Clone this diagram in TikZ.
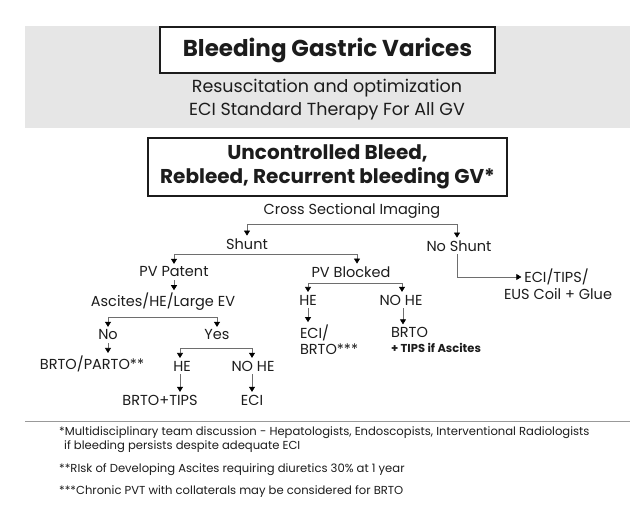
\documentclass[tikz,border=0pt]{standalone}
\usepackage{fontspec}
\setmainfont{Poppins}
\usetikzlibrary{arrows.meta}
\definecolor{bandgray}{HTML}{E6E6E6}
\definecolor{wiregray}{HTML}{6E6E6E}
\definecolor{inkblack}{HTML}{1C1C1C}
\tikzset{
    lbl/.style={inner sep=1.5pt, outer sep=1.5pt, text=inkblack, font=\fontsize{14.5}{16}\selectfont},
    headbox/.style={draw=inkblack, line width=1.2pt, fill=white, text=inkblack, align=center},
    wire/.style={draw=wiregray, line width=0.7pt},
    tip/.style={wire, -{Triangle[width=6pt,length=5pt,color=black]}},
    fork/.style={wire, {Triangle[width=6pt,length=5pt,color=black]}-{Triangle[width=6pt,length=5pt,color=black]}},
    note/.style={anchor=west, inner sep=0pt, align=left, text=inkblack, font=\fontsize{11.6}{14}\selectfont}
}
\begin{document}
\begin{tikzpicture}[x=1pt, y=-1pt]
    \useasboundingbox (0,0) rectangle (641,514);
    \fill[bandgray] (25,26) rectangle (630,128);
    \node[headbox, minimum width=335, minimum height=46, font=\fontsize{23}{26}\selectfont\bfseries] (title) at (327.5,50) {Bleeding Gastric Varices};
    \node[lbl, align=center, font=\fontsize{17.5}{23}\selectfont] (resus) at (327,99.5) {Resuscitation and optimization\\ECI Standard Therapy For All GV};
    \node[headbox, minimum width=359, minimum height=58, font=\fontsize{20}{24}\selectfont\bfseries] (uncon) at (327.5,167) {Uncontrolled Bleed,\\Rebleed, Recurrent bleeding GV*};
    \node[lbl] (cross) at (352,211) {Cross Sectional Imaging};
    \node[lbl] (shunt) at (247,244) {Shunt};
    \node[lbl] (noshunt) at (459,246) {No Shunt};
    \node[lbl] (pvpat) at (174,272) {PV Patent};
    \node[lbl] (pvblk) at (351,272) {PV Blocked};
    \node[lbl] (ecitips) at (556.5,277) {ECI/TIPS/};
    \node[lbl] (eus) at (558,294) {EUS Coil + Glue};
    \node[lbl] (ascites) at (163,302) {Ascites/HE/Large EV};
    \node[lbl] (hetwo) at (308,300) {HE};
    \node[lbl] (nohetwo) at (401,300) {NO HE};
    \node[lbl, align=left, anchor=west, font=\fontsize{14.5}{16}\selectfont] (ecibrto) at (297,340) {ECI/\\BRTO***};
    \node[lbl, align=left, anchor=west, font=\fontsize{14.5}{15}\selectfont] (brtotips) at (388,340) {BRTO\\{\fontsize{11.5}{12}\selectfont\bfseries + TIPS if Ascites}};
    \node[lbl] (no) at (108,335) {No};
    \node[lbl] (yes) at (217,335) {Yes};
    \node[lbl] (parto) at (92,364) {BRTO/PARTO**};
    \node[lbl] (heone) at (182,366) {HE};
    \node[lbl] (noheone) at (253,366) {NO HE};
    \node[lbl] (brtotipsb) at (160,400) {BRTO+TIPS};
    \node[lbl] (ecione) at (252,400) {ECI};
    \draw[fork] (shunt.north) -- ++(0,-11) -| ([xshift=-2pt]noshunt.north);
    \draw[fork] (pvpat.north) -- ++(0,-10) -| ([xshift=6pt]pvblk.north);
    \draw[tip] (pvpat.south) -- (pvpat.south |- ascites.north);
    \draw[fork] (no.north) -- ++(0,-10) -| (yes.north);
    \draw[tip] (no.south) -- (no.south |- parto.north);
    \draw[fork] ([xshift=-2pt]heone.north) -- ++(0,-10) -| ([xshift=-1pt]noheone.north);
    \draw[tip] ([xshift=-2pt]heone.south) -- ([xshift=-2pt]heone.south |- brtotipsb.north);
    \draw[tip] ([xshift=-1pt]noheone.south) -- ([xshift=-1pt]noheone.south |- ecione.north);
    \draw[fork] (hetwo.north) -- ++(0,-9) -| ([xshift=1pt]nohetwo.north);
    \draw[tip] (hetwo.south) -- (hetwo.south |- ecibrto.north);
    \draw[tip] ([xshift=2pt]nohetwo.south) -- ([xshift=2pt]nohetwo.south |- brtotips.north);
    \draw[tip] ([xshift=-2pt]noshunt.south) |- (ecitips.west);
    \draw[draw=black!40, line width=0.8pt] (25,421) -- (630,421);
    \node[note] (fnone) at (59,440) {*Multidisciplinary team discussion - Hepatologists, Endoscopists, Interventional Radiologists\\\hspace{5pt}if bleeding persists despite adequate ECI};
    \node[note] (fntwo) at (59,470) {**RIsk of Developing Ascites requiring diuretics 30\% at 1 year};
    \node[note] (fnthree) at (59,492) {***Chronic PVT with collaterals may be considered for BRTO};
\end{tikzpicture}
\end{document}
